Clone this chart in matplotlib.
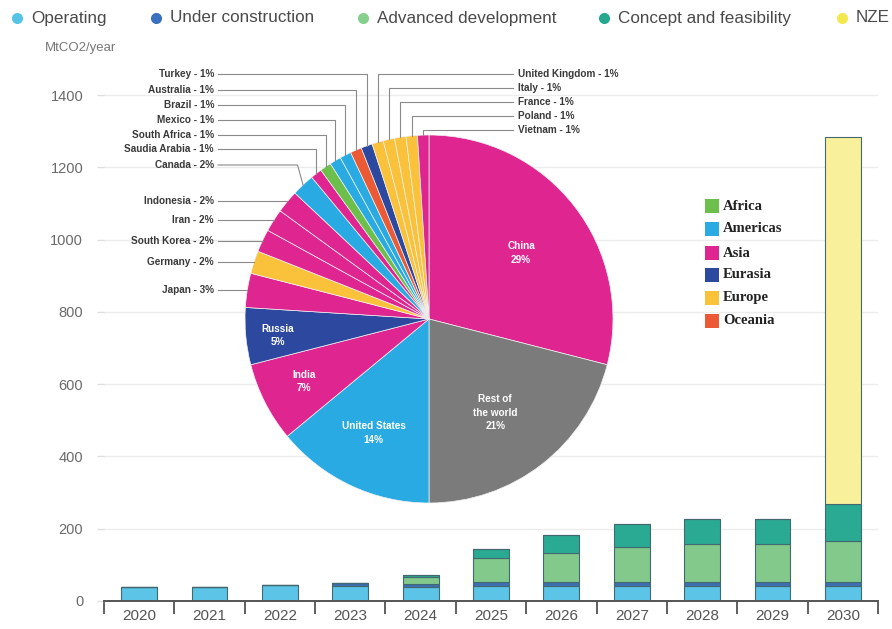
import numpy as np
import matplotlib
matplotlib.use('Agg')
import matplotlib.pyplot as plt
from matplotlib.lines import Line2D

# stacked bar data (MtCO2/year)
years = ['2020', '2021', '2022', '2023', '2024', '2025', '2026', '2027', '2028', '2029', '2030']
operating = [39, 39, 44, 41, 40, 41, 41, 41, 41, 41, 41]
under_construction = [0, 0, 0, 9, 6, 12, 12, 12, 12, 12, 12]
advanced = [0, 0, 0, 0, 21, 67, 81, 96, 105, 105, 112]
concept = [0, 0, 0, 0, 4, 24, 49, 65, 69, 69, 103]
nze = [0, 0, 0, 0, 0, 0, 0, 0, 0, 0, 1017]
stage_names = ['Operating', 'Under construction', 'Advanced development',
               'Concept and feasibility', 'NZE']

# pie data (share of capacity, %)
countries = ['China', 'Rest of\nthe world', 'United States', 'India', 'Russia', 'Japan',
             'Germany', 'South Korea', 'Iran', 'Indonesia', 'Canada', 'Saudia Arabia',
             'South Africa', 'Mexico', 'Brazil', 'Australia', 'Turkey', 'United Kingdom',
             'Italy', 'France', 'Poland', 'Vietnam']
shares = [29, 21, 14, 7, 5, 3, 2, 2, 2, 2, 2, 1, 1, 1, 1, 1, 1, 1, 1, 1, 1, 1]
regions = ['Asia', 'Rest', 'Americas', 'Asia', 'Eurasia', 'Asia', 'Europe', 'Asia', 'Asia',
           'Asia', 'Americas', 'Asia', 'Africa', 'Americas', 'Americas', 'Oceania', 'Eurasia',
           'Europe', 'Europe', 'Europe', 'Europe', 'Asia']
region_names = ['Africa', 'Americas', 'Asia', 'Eurasia', 'Europe', 'Oceania']

region_colors = {'Africa': '#6cbf4a', 'Americas': '#2aaae2', 'Asia': '#df2690',
                 'Eurasia': '#2c489f', 'Europe': '#f9c23a', 'Oceania': '#ec5a35',
                 'Rest': '#7b7b7b'}
stage_colors = ['#5cc4e6', '#3d6fb3', '#82c98b', '#2aaa92', '#f8f09a']
stage_dots = ['#56c2e6', '#3b6fc0', '#86cf8c', '#26a88e', '#f3e84e']

W, H = 892, 629
fig = plt.figure(figsize=(W / 100, H / 100), dpi=100)
plt.rcParams['font.family'] = ['Liberation Sans', 'DejaVu Sans']

# ---- bar chart ----
ax = fig.add_axes([104 / W, 1 - 601 / H, (878 - 104) / W, (601 - 59) / H])
x = np.arange(len(years))
bottom = np.zeros(len(years))
for vals, col in zip([operating, under_construction, advanced, concept, nze], stage_colors):
    vals = np.array(vals, dtype=float)
    ax.bar(x, vals, 0.51, bottom=bottom, color=col, edgecolor='#42696f', linewidth=0.8,
           zorder=2)
    bottom += vals

ax.set_xlim(-0.5, len(years) - 0.5)
ax.set_ylim(0, 1500)
ax.set_yticks(np.arange(0, 1401, 200))
ax.tick_params(axis='y', colors='#dddddd', labelcolor='#6a6a6a', labelsize=10.5,
               length=5, width=1, pad=10)
ax.set_xticks(x)
ax.set_xticklabels(years)
ax.tick_params(axis='x', length=0, labelsize=11, labelcolor='#555555', pad=6)
ax.set_xticks(np.arange(-0.5, len(years), 1), minor=True)
ax.tick_params(axis='x', which='minor', length=9, width=1.2, color='#444444', direction='out')
for s in ['top', 'right', 'left']:
    ax.spines[s].set_visible(False)
ax.spines['bottom'].set_color('#555555')
ax.spines['bottom'].set_linewidth(1.4)
ax.grid(axis='y', color='#ececec', linewidth=1, zorder=0)
ax.set_axisbelow(True)
fig.text(45 / W, 1 - 48 / H, 'MtCO2/year', fontsize=9.5, color='#777777', va='center')

# top legend
dot_x = [17, 156, 363, 604, 842]
for dx, name, col in zip(dot_x, stage_names, stage_dots):
    fig.add_artist(Line2D([dx / W], [1 - 18 / H], marker='o', markersize=8, color=col,
                          markeredgewidth=0, transform=fig.transFigure))
    fig.text((dx + 14) / W, 1 - 18 / H, name, fontsize=12.3, color='#4a4a4a', va='center')

# ---- pie ----
cx, cy, r = 429, 319, 184
pax = fig.add_axes([(cx - r) / W, 1 - (cy + r) / H, 2 * r / W, 2 * r / H])
pax.patch.set_alpha(0)
pie_cols = [region_colors[g] for g in regions]
pax.pie(shares, colors=pie_cols, startangle=90, counterclock=False, radius=1,
        wedgeprops=dict(edgecolor='#f2f2f2', linewidth=0.5))
pax.set_xlim(-1, 1)
pax.set_ylim(-1, 1)
pax.set_aspect('equal')
pax.axis('off')

inside = {0: (0.5, 0.36), 1: (0.36, -0.51), 2: (-0.30, -0.62), 3: (-0.68, -0.34),
          4: (-0.82, -0.09)}
for i, (px, py) in inside.items():
    pax.text(px, py, '%s\n%d%%' % (countries[i], shares[i]), ha='center', va='center',
             fontsize=7.2, color='white', fontweight='bold', linespacing=1.45)

cum = np.cumsum(shares)
mid = cum - np.array(shares) / 2
ang = np.deg2rad(90 - mid * 3.6)

def to_pie(xp, yp):
    return (xp - cx) / r, (cy - yp) / r

left_y = {'Japan': 290, 'Germany': 262, 'South Korea': 241, 'Iran': 220, 'Indonesia': 201,
          'Canada': 165, 'Saudia Arabia': 149, 'South Africa': 135, 'Mexico': 120,
          'Brazil': 105, 'Australia': 90, 'Turkey': 74}
right_y = {'United Kingdom': 74, 'Italy': 88, 'France': 102, 'Poland': 116, 'Vietnam': 130}

lc = '#8a8a8a'
for i, name in enumerate(countries):
    ex, ey = np.cos(ang[i]), np.sin(ang[i])
    label = '%s - %d%%' % (name, shares[i])
    if name in left_y:
        lx, ly = to_pie(218, left_y[name])
        if abs(ly - ey) < 0.06:
            pax.plot([lx, ex], [ly, ly], color=lc, lw=0.8, clip_on=False)
        elif name == 'Canada':
            kx = ex - 0.03
            pax.plot([lx, kx, ex], [ly, ly, ey], color=lc, lw=0.8, clip_on=False)
        else:
            pax.plot([lx, ex, ex], [ly, ly, ey], color=lc, lw=0.8, clip_on=False)
        tx, _ = to_pie(214, 0)
        pax.text(tx, ly, label, ha='right', va='center', fontsize=7.2, fontweight='bold',
                 color='#3a3a3a', clip_on=False)
    elif name in right_y:
        lx, ly = to_pie(513, right_y[name])
        pax.plot([lx, ex, ex], [ly, ly, ey], color=lc, lw=0.8, clip_on=False)
        tx, _ = to_pie(518, 0)
        pax.text(tx, ly, label, ha='left', va='center', fontsize=7.2, fontweight='bold',
                 color='#3a3a3a', clip_on=False)

# region legend
reg_y = [206, 229, 253, 275, 298, 321]
for ry, name in zip(reg_y, region_names):
    fig.add_artist(Line2D([712 / W], [1 - ry / H], marker='s', markersize=10,
                          color=region_colors[name], markeredgewidth=0,
                          transform=fig.transFigure))
    fig.text(723 / W, 1 - ry / H, name, fontsize=10.5, fontweight='bold', color='#222222',
             va='center', family='Liberation Serif')

fig.savefig('out.png', dpi=100)
